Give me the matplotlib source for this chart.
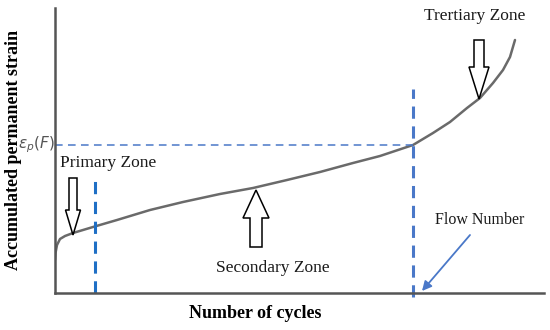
import numpy as np
import matplotlib
matplotlib.use("Agg")
import matplotlib.pyplot as plt
from matplotlib.patches import FancyArrow

plt.rcParams["font.family"] = ["Liberation Serif", "DejaVu Serif"]

# creep curve (arbitrary units: cycles vs strain)
cycles = [0, 0.5, 2, 5, 10, 18, 28, 38, 62, 95, 128, 165, 198, 232, 265,
          298, 325, 358, 378, 395, 412, 425, 438, 448, 455, 460]
strain = [33, 40, 48, 54, 57, 60, 63, 66, 73, 83, 91, 99, 105, 113, 121,
          130, 137, 148, 160, 171, 185, 195, 210, 223, 236, 253]

primary_end = 40
flow_number = 358
strain_at_flow = 148

zone_labels = ["Primary Zone", "Secondary Zone", "Trertiary Zone"]

fig = plt.figure(figsize=(5.5, 3.3), dpi=100)
ax = fig.add_axes([55 / 550, 37 / 330, 489 / 550, 285 / 330])
ax.set_xlim(0, 489)
ax.set_ylim(0, 285)
ax.set_xticks([]); ax.set_yticks([])
for s in ["top", "right"]:
    ax.spines[s].set_visible(False)
for s in ["left", "bottom"]:
    ax.spines[s].set_color("#555555")
    ax.spines[s].set_linewidth(1.8)

ax.plot(cycles, strain, color="#6a6a6a", lw=1.8, solid_capstyle="round",
        solid_joinstyle="round")

# dashed guide lines
ax.plot([primary_end, primary_end], [0, 116], color="#1f6fc5", lw=2.2,
        dashes=(4, 2.5), clip_on=False)
ax.plot([flow_number, flow_number], [-4, 204], color="#4a78c8", lw=2.2,
        dashes=(4, 2.5), clip_on=False)
ax.plot([0, flow_number], [strain_at_flow, strain_at_flow], color="#4a78c8",
        lw=1.1, dashes=(5, 3.5))

# hollow block arrows
arrow_kw = dict(fc="white", ec="black", lw=1.1, length_includes_head=True, zorder=5)
ax.add_patch(FancyArrow(18, 115, 0, -57, width=8, head_width=15, head_length=25, **arrow_kw))
ax.add_patch(FancyArrow(201, 46, 0, 57, width=12, head_width=26, head_length=28, **arrow_kw))
ax.add_patch(FancyArrow(424, 253, 0, -59, width=10, head_width=20, head_length=32, **arrow_kw))

ax.annotate("", xy=(367, 2), xytext=(415, 58),
            arrowprops=dict(arrowstyle="-|>", color="#4a78c8", lw=1.3,
                            mutation_scale=14, shrinkA=0, shrinkB=0))

tc = "#1a1a1a"
ax.text(5, 130, zone_labels[0], fontsize=12.5, color=tc, va="center", ha="left")
ax.text(218, 25, zone_labels[1], fontsize=12.5, color=tc, va="center", ha="center")
ax.text(420, 277, zone_labels[2], fontsize=12.5, color=tc, va="center", ha="center")
ax.text(425, 73, "Flow Number", fontsize=11.5, color=tc, va="center", ha="center")

fig.text(36 / 550, 1 - 145 / 330, r"$\varepsilon_p(F)$", fontsize=11, color="#555555",
         ha="center", va="center")
fig.text(255 / 550, 1 - 313 / 330, "Number of cycles", fontsize=13, fontweight="bold",
         ha="center", va="center")
fig.text(14 / 550, 1 - 150 / 330, "Accumulated permanent strain", fontsize=13,
         fontweight="bold", rotation=90, ha="center", va="center")

fig.savefig("out.png", dpi=100)
